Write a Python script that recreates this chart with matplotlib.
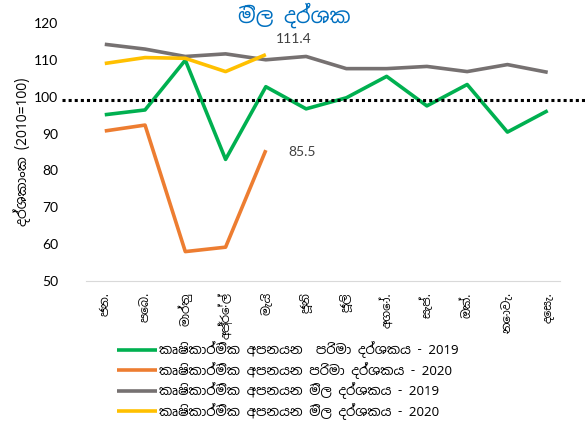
import matplotlib
matplotlib.use("Agg")
import matplotlib.pyplot as plt
from matplotlib import font_manager

months = ["ජන.", "පෙබ.", "මාර්තු", "අප්‍රේල්", "මැයි", "ජූනි", "ජූලි", "අගෝ.", "සැප්.", "ඔක්.", "නොවැ.", "දෙසැ."]
vol_2019 = [95.1, 96.4, 109.9, 83.0, 102.7, 96.7, 99.7, 105.5, 97.5, 103.3, 90.4, 96.2]
vol_2020 = [90.7, 92.3, 58.0, 59.2, 85.5]
price_2019 = [114.2, 112.9, 110.9, 111.6, 110.0, 110.9, 107.6, 107.6, 108.2, 106.8, 108.7, 106.6]
price_2020 = [109.0, 110.6, 110.4, 106.8, 111.4]
labels = ["කෘෂිකාර්මික අපනයන  පරිමා දර්ශකය - 2019",
          "කෘෂිකාර්මික අපනයන පරිමා දර්ශකය - 2020",
          "කෘෂිකාර්මික අපනයන මිල දර්ශකය - 2019",
          "කෘෂිකාර්මික අපනයන මිල දර්ශකය - 2020"]
title = "මිල දර්ශක"
ylabel = "දර්ශකාංක (2010=100)"
base_value = 99.2

names = sorted({f.name for f in font_manager.fontManager.ttflist})
sinh = [n for n in names if "Sinhala" in n]
fam = sinh + ["DejaVu Sans"]
plt.rcParams['font.family'] = fam
num_fam = ["Lato", "DejaVu Sans"]

fig = plt.figure(figsize=(5.88, 4.24), dpi=100)
ax = fig.add_axes([0.146, 0.337, 0.806, 0.609])

x = list(range(12))
colors = ["#00b050", "#ed7d31", "#767171", "#ffc000"]
series = [vol_2019, vol_2020, price_2019, price_2020]
for s, c, l in zip(series, colors, labels):
    ax.plot(x[:len(s)], s, color=c, lw=2.6, label=l, solid_capstyle='butt')

ax.axhline(base_value, xmin=-0.05, xmax=1.06, color="black", lw=2.2, ls=(0, (1, 1)), clip_on=False, zorder=5)

ax.annotate(f"{price_2020[4]:.1f}", (4, price_2020[4]), xytext=(20, 11), textcoords="offset points",
            ha="center", va="center", fontsize=10, color="#404040", family=num_fam)
ax.annotate(f"{vol_2020[4]:.1f}", (4, vol_2020[4]), xytext=(16, -1), textcoords="offset points",
            ha="left", va="center", fontsize=10, color="#404040", family=num_fam)

ax.set_ylim(50, 120)
ax.set_xlim(-0.47, 11.3)
ax.set_yticks(range(50, 121, 10))
ax.set_xticks(x)
ax.set_xticklabels(months, rotation=90, fontsize=8.5, va="top")
for t in ax.get_yticklabels():
    t.set_fontfamily(num_fam)
    t.set_fontsize(10)
ax.tick_params(axis="y", length=0, pad=20)
ax.tick_params(axis="x", length=0, pad=8)
for sp in ["top", "right", "left"]:
    ax.spines[sp].set_visible(False)
ax.spines["bottom"].set_color("#d9d9d9")
ax.set_ylabel(ylabel, fontsize=10, labelpad=2)
fig.text(0.5, 0.963, title, ha="center", va="center", fontsize=15, color="#0070c0", fontweight="bold")

fig.legend(loc="upper left", bbox_to_anchor=(0.188, 0.21), frameon=False, fontsize=9.5,
           handlelength=3.0, handletextpad=0.2, labelspacing=0.28, borderpad=0)

fig.savefig("out.png", dpi=100)
